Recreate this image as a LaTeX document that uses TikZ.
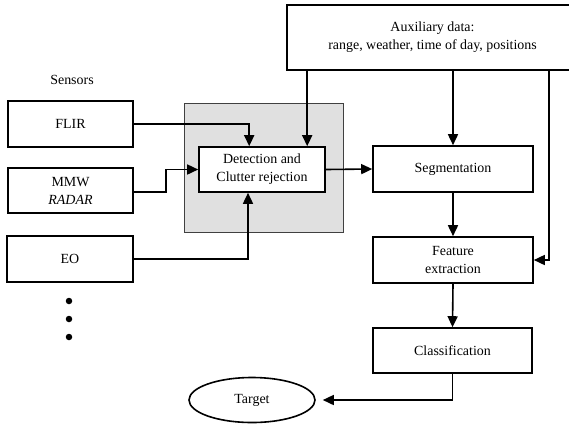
\documentclass[tikz,border=0pt]{standalone}
\usepackage{fontspec}
\setmainfont{Liberation Serif}
\usetikzlibrary{arrows.meta,shapes.geometric,calc}
\begin{document}
\begin{tikzpicture}[x=1bp,y=-1bp,
  every node/.style={font=\fontsize{14}{18}\selectfont},
  blk/.style={draw, line width=1.6bp, rectangle, inner sep=0pt, align=center},
  shade/.style={fill=black!12, draw=black!75, line width=0.9bp},
  arr/.style={line width=1.6bp, -{Triangle[length=11bp,width=10bp]}},
  dot/.style={circle, fill=black, inner sep=0pt, minimum size=6.5bp}
]
\useasboundingbox (0,0) rectangle (569,423);
% shaded region
\path[shade] (184,103) rectangle (343,232);
% blocks
\node[blk, minimum width=291bp, minimum height=65bp] (aux) at (432.5,37.5)
  {\fontsize{14}{17}\selectfont Auxiliary data:\\range, weather, time of day, positions};
\node (sens) at (72,80) {Sensors};
\node[blk, minimum width=125bp, minimum height=46bp] (flir) at (70.5,124) {FLIR};
\node[blk, minimum width=125bp, minimum height=45bp] (mmw) at (70.5,190.5)
  {\fontsize{14}{20}\selectfont MMW\\\textit{RADAR}};
\node[blk, minimum width=126bp, minimum height=46bp] (eo) at (70,259) {EO};
\node[blk, fill=white, minimum width=126bp, minimum height=45bp] (det) at (262,169.5)
  {Detection and\\Clutter rejection};
\node[blk, minimum width=160bp, minimum height=46bp] (seg) at (453,169) {Segmentation};
\node[blk, minimum width=160bp, minimum height=46bp] (feat) at (453,260)
  {\fontsize{14}{23}\selectfont Feature\\extraction};
\node[blk, minimum width=159bp, minimum height=45bp] (cls) at (452.5,350.5) {Classification};
\node[draw, ellipse, line width=1.6bp, minimum width=126bp, minimum height=45bp, inner sep=0pt] (tgt) at (252,400) {Target};
\node[dot] (d1) at (69,301) {};
\node[dot] (d2) at (69,319) {};
\node[dot] (d3) at (69,337) {};
% connectors
\coordinate (fl) at ($(det.north west)+(51,0)$);
\draw[arr] (flir.east) -| (fl);
\coordinate (mm) at (166,192);
\draw[arr] (mmw.east |- mm) -- (mm) |- (det.west);
\coordinate (eoc) at ($(det.south)+(-14,0)$);
\draw[arr] (eo.east) -| (eoc);
\coordinate (a1) at ($(aux.south west)+(21,0)$);
\draw[arr] (a1) -- (a1 |- det.north);
\draw[arr] (det.east) -- (seg.west);
\draw[arr] (aux.south -| seg.north) -- (seg.north);
\coordinate (a3) at ($(aux.south west)+(263,0)$);
\draw[arr] (a3) |- (feat.east);
\draw[arr] (seg.south) -- (feat.north);
\draw[arr] (feat.south) -- (cls.north);
\draw[arr, shorten >=7bp] (cls.south) |- (tgt.east);
\end{tikzpicture}
\end{document}
